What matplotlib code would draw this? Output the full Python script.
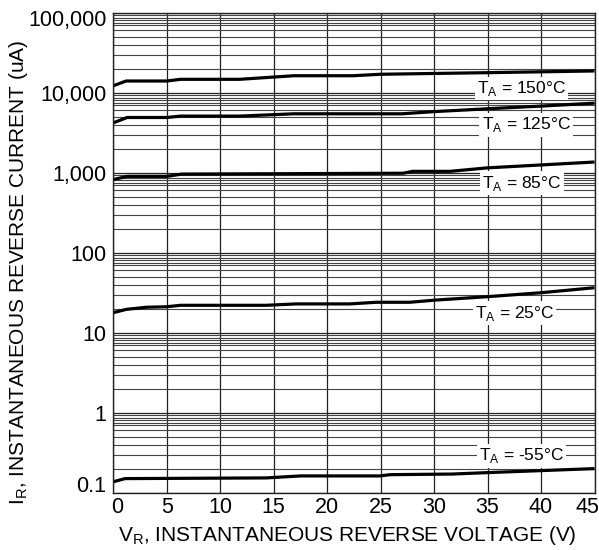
import matplotlib
matplotlib.use("Agg")
import matplotlib.pyplot as plt
from matplotlib.ticker import FixedLocator, LogLocator, NullFormatter
from matplotlib.transforms import ScaledTranslation

plt.rcParams['font.family'] = ['Liberation Sans', 'DejaVu Sans']

# reverse current vs reverse voltage
v_150 = [0, 1.2, 5, 6.3, 11.8, 16.9, 22.4, 25, 35, 45]
i_150 = [12200, 14000, 14000, 14700, 14700, 16300, 16300, 17000, 17800, 18700]

v_125 = [0, 1.3, 5, 6.3, 11.8, 16.9, 27, 30, 35, 40, 45]
i_125 = [4200, 4900, 4900, 5100, 5100, 5450, 5450, 5800, 6300, 6800, 7400]

v_85 = [0, 1.3, 5, 6.4, 27.1, 28, 31.5, 35, 40, 45]
i_85 = [820, 900, 900, 960, 985, 1040, 1040, 1150, 1250, 1360]

v_25 = [0, 1.25, 3.1, 5, 6.3, 14.3, 17.1, 22.1, 24.6, 27.7, 30.2, 35, 40, 45]
i_25 = [17.8, 19.6, 20.8, 21.1, 22, 22, 22.9, 22.9, 24, 24, 25.6, 28.2, 31.6, 36.5]

v_m55 = [0, 1.1, 14.3, 17.5, 24.9, 25.9, 31.7, 34.9, 45]
i_m55 = [0.137, 0.150, 0.153, 0.162, 0.162, 0.168, 0.171, 0.178, 0.20]

series = [
    (v_150, i_150, '150', (38.2, 11300)),
    (v_125, i_125, '125', (38.6, 3950)),
    (v_85, i_85, '85', (38.2, 743)),
    (v_25, i_25, '25', (37.5, 17.6)),
    (v_m55, i_m55, '-55', (38.2, 0.288)),
]

y_ticks = [0.1, 1, 10, 100, 1000, 10000, 100000]
y_labels = ['0.1', '1', '10', '100', '1,000', '10,000', '100,000']
x_ticks = [0, 5, 10, 15, 20, 25, 30, 35, 40, 45]

fig = plt.figure(figsize=(5.99, 5.5), dpi=100)
ax = fig.add_axes([0.1891, 0.1042, 0.8034, 0.8727])

ax.set_yscale('log')
ax.set_xlim(0, 45)
ax.set_ylim(0.1, 100000)

ax.yaxis.set_major_locator(FixedLocator(y_ticks))
ax.yaxis.set_minor_locator(LogLocator(base=10, subs=[2, 3, 4, 5, 6, 7, 7.5, 8, 8.7, 9.3], numticks=100))
ax.yaxis.set_minor_formatter(NullFormatter())
ax.set_yticks(y_ticks, y_labels)
ax.set_xticks(x_ticks)

ax.grid(True, which='major', axis='both', color='#222222', linewidth=0.9)
ax.grid(True, which='minor', axis='y', color='#444444', linewidth=0.8)
ax.tick_params(which='both', length=0)
ax.tick_params(axis='y', labelsize=15.5, pad=5)
ax.tick_params(axis='x', labelsize=15.5, pad=3)
ax.set_axisbelow(True)
for s in ax.spines.values():
    s.set_color('#222222')
    s.set_linewidth(1.0)

for v, i, t, pos in series:
    ax.plot(v, i, color='black', linewidth=2.3, solid_capstyle='butt')
    ax.text(pos[0], pos[1], 'T$_\\mathregular{A}$ = ' + t + '°C', fontsize=12.5,
            ha='center', va='center',
            bbox=dict(facecolor='white', edgecolor='none', pad=1.5))

# end labels sit a bit inside the frame in the original
def nudge(lbl, dx, dy):
    lbl.set_transform(lbl.get_transform() + ScaledTranslation(dx / 100, dy / 100, fig.dpi_scale_trans))

ylab = ax.get_yticklabels()
nudge(ylab[0], 0, 9)
nudge(ylab[-1], 0, -5)
xlab = ax.get_xticklabels()
nudge(xlab[0], 4, 0)
nudge(xlab[-1], -7, 0)

ax.set_xlabel('V$_\\mathregular{R}$, INSTANTANEOUS REVERSE VOLTAGE (V)', fontsize=15)
ax.set_ylabel('I$_\\mathregular{R}$, INSTANTANEOUS REVERSE CURRENT (uA)', fontsize=15)
ax.xaxis.label.set_va('center')
ax.yaxis.label.set_va('center')
ax.xaxis.set_label_coords(0.486, -0.089)
ax.yaxis.set_label_coords(-0.196, 0.46)

fig.savefig('out.png', dpi=100)
